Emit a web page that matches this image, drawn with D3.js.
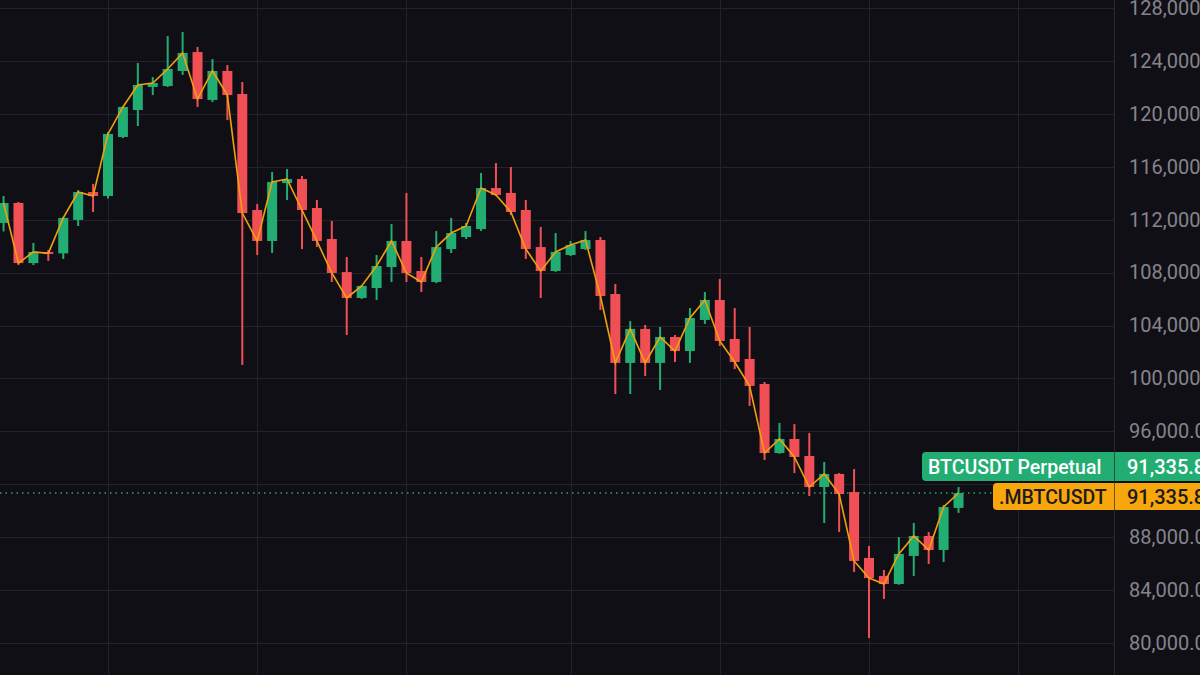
<!DOCTYPE html>
<html>
<head>
<meta charset="utf-8">
<script src="https://cdn.jsdelivr.net/npm/d3@7"></script>
<style>
  html, body { margin: 0; padding: 0; background: #110f16; }
  svg { display: block; }
</style>
</head>
<body>
<svg id="chart" width="1200" height="675"></svg>
<script>
// daily candles, BTCUSDT perpetual, Sep 24 -> Nov 27 2025
var firstDay = "2025-09-24";
var opens  = [111750,113260,108720,109560,109450,111980,114090,113790,118250,120290,
              122030,122100,123240,124670,121050,123240,121500,112730,110390,114770,
              115070,112880,110540,108040,106080,106830,108420,110390,108120,107290,
              109780,110690,111290,114390,114020,112730,109930,108120,109330,109780,
              110460,106380,101170,103740,101170,103130,102070,104420,105930,102980,
              101470,99580,94360,95420,94140,91790,92780,91410,86430,85070,
              84460,86580,88090,87030,90210];
var highs  = [113790,113340,110240,109710,112200,114240,114700,118630,120590,123840,
              122780,125880,126190,125050,124140,123690,122410,113190,115600,115830,
              115300,113490,111900,109180,107060,109330,111670,114020,109180,111140,
              112130,111750,115530,116280,115980,113490,111450,110990,110390,111140,
              110690,107140,104340,104040,103890,103280,105320,106530,107520,105320,
              103890,99730,96630,96550,95870,93680,92850,93150,87330,85520,
              88010,89070,88390,90430,91790];
var lows   = [111110,108570,108570,108880,109030,111520,112580,113600,118170,119080,
              121420,122030,122940,120520,120890,119530,101010,109330,109480,113490,
              109780,109930,107290,103280,106000,105930,107290,107290,106530,107200,
              109480,110540,111140,113790,112350,109030,106080,108050,109250,109710,
              105170,98820,98820,100180,99120,101240,101170,104110,102450,100710,
              97920,93830,94300,92850,91110,89070,88390,85370,80380,83330,
              84400,85070,85970,86120,89830];
var closes = [113260,108720,109560,109450,112130,114090,113790,118480,120520,122180,
              122330,123390,124600,121120,123240,121420,112500,110390,114850,115070,
              112730,110390,107970,106080,106990,108500,110390,107970,107290,109930,
              110990,111520,114390,113870,112580,109780,108120,109560,110090,110460,
              106230,101170,103740,101170,103130,102070,104570,105930,102830,101240,
              99430,94360,95420,94060,91790,92780,91260,86200,84910,84460,
              86730,88090,87030,90280,91335.8];
var gridPrices = [80000,84000,88000,92000,96000,100000,104000,108000,112000,116000,120000,124000,128000];
// 92,000 sits under the price tags, so it gets no label
var labelPrices = [80000,84000,88000,96000,100000,104000,108000,112000,116000,120000,124000,128000];
var gridDays = ["2025-09-21","2025-10-01","2025-10-11","2025-10-21","2025-11-01","2025-11-11","2025-11-21","2025-12-01"];
var lastPrice = 91335.8;
var mainLabel = "BTCUSDT Perpetual";
var indexLabel = ".MBTCUSDT";

var svg = d3.select("#chart"),
    width = +svg.attr("width"),
    height = +svg.attr("height"),
    axisX = 1114;

var up = "#22ad72", down = "#ef4f55";
var parse = d3.utcParse("%Y-%m-%d");

var start = parse(firstDay);
var candles = opens.map(function(o, i) {
    return {date: d3.utcDay.offset(start, i), o: o, h: highs[i], l: lows[i], c: closes[i]};
});

var x = d3.scaleUtc()
    .domain([parse("2025-10-01"), parse("2025-11-21")])
    .range([108, 869]);

var y = d3.scaleLinear()
    .domain([80000, 128000])
    .range([643, 8]);

svg.append("rect").attr("width", width).attr("height", height).attr("fill", "#110f16");

// grid
var grid = svg.append("g").attr("stroke", "#24222a").attr("stroke-width", 1);
grid.selectAll(".hg").data(gridPrices).enter().append("line")
    .attr("x1", 0).attr("x2", axisX)
    .attr("y1", function(d) { return Math.round(y(d)) + 0.5; })
    .attr("y2", function(d) { return Math.round(y(d)) + 0.5; });
grid.selectAll(".vg").data(gridDays.map(parse)).enter().append("line")
    .attr("y1", 0).attr("y2", height)
    .attr("x1", function(d) { return Math.round(x(d)) + 0.5; })
    .attr("x2", function(d) { return Math.round(x(d)) + 0.5; });

var plot = svg.append("g");
plot.append("clipPath").attr("id", "plotclip")
    .append("rect").attr("width", axisX).attr("height", height);
var area = plot.append("g").attr("clip-path", "url(#plotclip)");

// last price dotted line
area.append("line")
    .attr("x1", 0).attr("x2", axisX)
    .attr("y1", y(lastPrice)).attr("y2", y(lastPrice))
    .attr("stroke", up).attr("stroke-width", 1.5)
    .attr("stroke-dasharray", "1.5,4");

var bw = 10;
var node = area.selectAll(".candle").data(candles).enter().append("g")
    .attr("class", "candle")
    .attr("fill", function(d) { return d.c >= d.o ? up : down; })
    .attr("stroke", function(d) { return d.c >= d.o ? up : down; });

node.append("line")
    .attr("x1", function(d) { return x(d.date); })
    .attr("x2", function(d) { return x(d.date); })
    .attr("y1", function(d) { return y(d.h); })
    .attr("y2", function(d) { return y(d.l); })
    .attr("stroke-width", 2);

node.append("rect")
    .attr("stroke", "none")
    .attr("x", function(d) { return x(d.date) - bw / 2; })
    .attr("width", bw)
    .attr("y", function(d) { return y(Math.max(d.o, d.c)); })
    .attr("height", function(d) { return Math.max(2, Math.abs(y(d.o) - y(d.c))); });

// index close line
var line = d3.line()
    .x(function(d) { return x(d.date); })
    .y(function(d) { return y(d.c); });
area.append("path")
    .datum(candles)
    .attr("fill", "none")
    .attr("stroke", "#f0a10c")
    .attr("stroke-width", 1.6)
    .attr("d", line);

// price axis
svg.append("line")
    .attr("x1", axisX + 0.5).attr("x2", axisX + 0.5)
    .attr("y1", 0).attr("y2", height)
    .attr("stroke", "#2c2a31");

var fmt = d3.format(",.1f");
var yAxis = svg.append("g")
    .attr("transform", "translate(" + axisX + ",0)")
    .call(d3.axisRight(y).tickValues(labelPrices).tickSize(0).tickPadding(15).tickFormat(fmt));
yAxis.select(".domain").remove();
yAxis.selectAll("text")
    .attr("fill", "#85848c")
    .attr("font-family", "Roboto, 'Noto Sans', sans-serif")
    .attr("font-size", 20);

// labels
function tag(yTop, h, text, left, bg, fg) {
    var g = svg.append("g");
    g.append("rect")
        .attr("x", left).attr("y", yTop).attr("width", axisX - left + 4).attr("height", h)
        .attr("rx", 4).attr("fill", bg);
    g.append("rect")
        .attr("x", axisX + 1).attr("y", yTop).attr("width", width - axisX).attr("height", h)
        .attr("fill", bg);
    g.append("line")
        .attr("x1", axisX + 0.5).attr("x2", axisX + 0.5)
        .attr("y1", yTop).attr("y2", yTop + h)
        .attr("stroke", "#1a1a1f").attr("stroke-opacity", 0.6);
    g.append("text")
        .attr("x", left + 6).attr("y", yTop + h / 2).attr("dy", "0.36em")
        .attr("fill", fg).attr("font-family", "Roboto, 'Noto Sans', sans-serif")
        .attr("font-size", 19.5).attr("font-weight", 500)
        .text(text);
    g.append("text")
        .attr("x", axisX + 13).attr("y", yTop + h / 2).attr("dy", "0.36em")
        .attr("fill", fg).attr("font-family", "Roboto, 'Noto Sans', sans-serif")
        .attr("font-size", 20).attr("font-weight", 500)
        .text(fmt(lastPrice));
}
tag(452, 29, mainLabel, 922, "#22ad72", "#ffffff");
tag(483, 27, indexLabel, 993, "#f7a60c", "#1b1a1e");
</script>
</body>
</html>
